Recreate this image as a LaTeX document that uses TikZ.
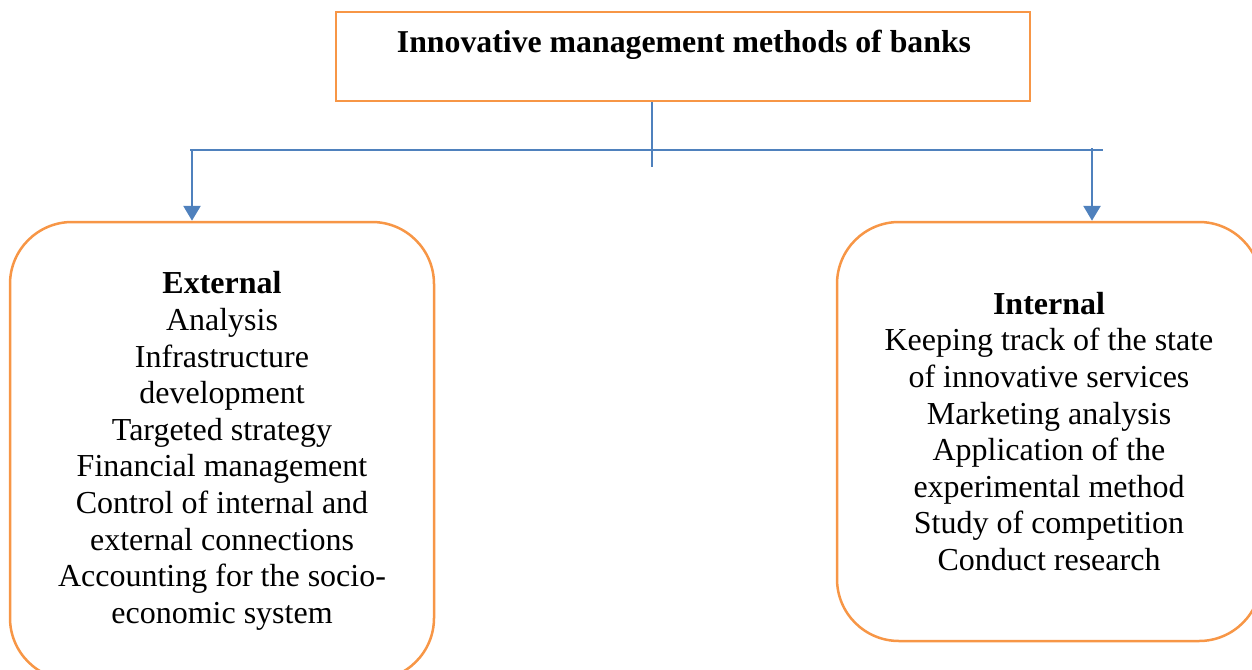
\documentclass[tikz,border=0pt]{standalone}
\usepackage{fontspec}
\setmainfont{Liberation Serif}
\usetikzlibrary{arrows.meta}
\definecolor{boxorange}{HTML}{F79646}
\definecolor{linkblue}{HTML}{4F81BD}
\tikzset{
  titlebox/.style={draw=boxorange, line width=2.5pt, minimum width=694pt, minimum height=89pt, inner sep=0pt},
  groupbox/.style={draw=boxorange, line width=2.5pt, rounded corners=62pt, minimum width=424pt,
    align=center, inner sep=0pt, font=\fontsize{32}{36.6}\selectfont},
  bar/.style={draw=linkblue, line width=1.4pt},
  arrowlink/.style={draw=linkblue, line width=2.8pt, -{Triangle[width=17pt,length=15pt]}},
}
\begin{document}
\begin{tikzpicture}[x=1pt,y=-1pt]
  \useasboundingbox (0,0) rectangle (1252,669);
  \clip (0,0) rectangle (1252,669);

  % heading
  \node[titlebox] (top) at (683,56.5) {};
  \node[font=\fontsize{31.8}{36}\selectfont\bfseries] (toptext) at (684,45) {Innovative management methods of banks};

  % the two groups of methods
  \node[groupbox, minimum height=458pt] (ext) at (222,451) {%
    \textbf{External}\\
    Analysis\\
    Infrastructure\\
    development\\
    Targeted strategy\\
    Financial management\\
    Control of internal and\\
    external connections\\
    Accounting for the socio-\\
    economic system};
  \node[groupbox, minimum height=419pt] (int) at (1049,431.5) {%
    \textbf{Internal}\\
    Keeping track of the state\\
    of innovative services\\
    Marketing analysis\\
    Application of the\\
    experimental method\\
    Study of competition\\
    Conduct research};

  % branching connectors
  \coordinate (stem) at (652,167);
  \coordinate (barL) at (190,150);
  \coordinate (barR) at (1103,150);
  \coordinate (dropL) at (192,150);
  \coordinate (dropR) at (1092,148);
  \draw[bar] (top.south -| stem) -- (stem);
  \draw[bar] (barL) -- (barR);
  \draw[arrowlink] (dropL) -- (dropL |- ext.north);
  \draw[arrowlink] (dropR) -- (dropR |- int.north);
\end{tikzpicture}
\end{document}
